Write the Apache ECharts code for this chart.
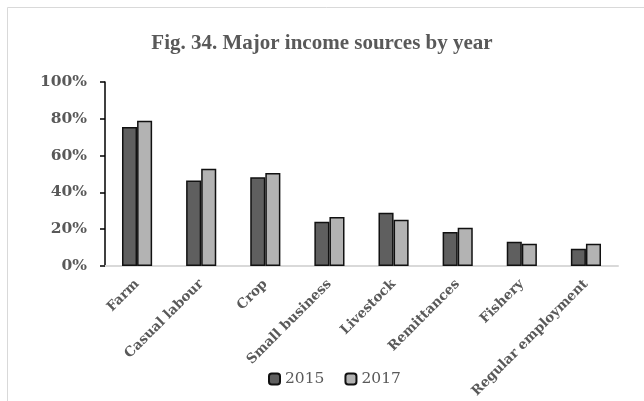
<!DOCTYPE html>
<html>
<head>
<meta charset="utf-8">
<script src="https://cdn.jsdelivr.net/npm/echarts@6/dist/echarts.min.js"></script>
<style>
  html, body { margin: 0; padding: 0; background: #fff; }
  #chart { width: 644px; height: 401px; }
</style>
</head>
<body>
<div id="chart"></div>
<script>
// Share of households reporting each income source
const categories = ['Farm', 'Casual labour', 'Crop', 'Small business', 'Livestock', 'Remittances', 'Fishery', 'Regular employment'];
const values2015 = [75.5, 46.4, 48.2, 24.1, 29.0, 18.5, 13.2, 9.4];
const values2017 = [79.0, 52.9, 50.5, 26.6, 25.2, 20.8, 12.1, 12.1];
const yTicks = [0, 20, 40, 60, 80, 100];

const serif = '"Liberation Serif", "DejaVu Serif", serif';
const wideSerif = '"DejaVu Serif", "Liberation Serif", serif';
const chart = echarts.init(document.getElementById('chart'));

chart.setOption({
  animation: false,
  backgroundColor: '#ffffff',
  graphic: [{
    type: 'rect',
    shape: { x: 7.5, y: 7.5, width: 700, height: 500 },
    style: { fill: 'none', stroke: '#d9d9d9', lineWidth: 1 },
    z: -1
  }],
  title: {
    text: 'Fig. 34. Major income sources by year',
    left: 'center',
    top: 28,
    textStyle: { fontFamily: serif, fontSize: 21, fontWeight: 'bold', color: '#595959' }
  },
  legend: {
    bottom: 9,
    left: 263,
    itemWidth: 11,
    itemHeight: 11,
    itemGap: 20,
    textStyle: { fontFamily: wideSerif, fontSize: 15.5, color: '#595959' },
    data: ['2015', '2017']
  },
  grid: { left: 105, right: 26, top: 82, bottom: 135 },
  xAxis: {
    type: 'category',
    data: categories,
    axisLine: { lineStyle: { color: '#d9d9d9', width: 2 } },
    axisTick: { show: false },
    axisLabel: {
      interval: 0,
      rotate: 45,
      margin: 16,
      fontFamily: wideSerif,
      fontSize: 13.5,
      fontWeight: 'bold',
      color: '#595959'
    }
  },
  yAxis: {
    type: 'value',
    min: yTicks[0],
    max: yTicks[yTicks.length - 1],
    interval: yTicks[1] - yTicks[0],
    axisLine: { show: true, lineStyle: { color: '#000000', width: 1.5 } },
    axisTick: { show: true, length: 5, lineStyle: { color: '#000000', width: 1.5 } },
    splitLine: { show: false },
    axisLabel: {
      margin: 18,
      fontFamily: wideSerif,
      fontSize: 15.5,
      fontWeight: 'bold',
      color: '#595959',
      formatter: v => v + '%'
    }
  },
  series: [
    {
      name: '2015',
      type: 'bar',
      data: values2015,
      barWidth: '23.5%',
      barGap: '0%',
      itemStyle: { color: '#5f5f5f', borderColor: '#111111', borderWidth: 1.5 }
    },
    {
      name: '2017',
      type: 'bar',
      data: values2017,
      barWidth: '23.5%',
      barGap: '0%',
      itemStyle: { color: '#b3b3b3', borderColor: '#111111', borderWidth: 1.5 }
    }
  ]
});
</script>
</body>
</html>
